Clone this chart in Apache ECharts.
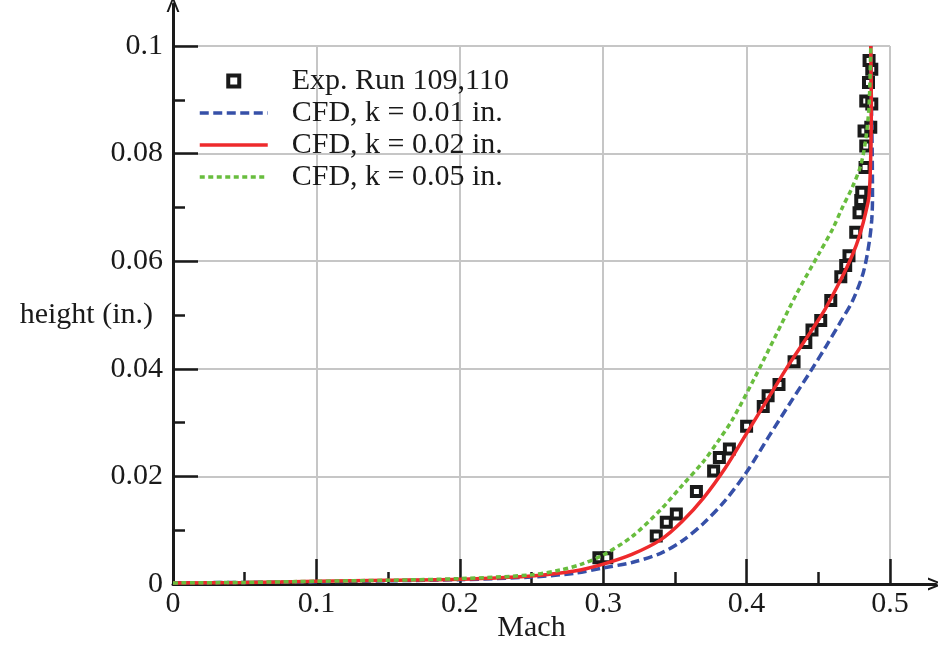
<!DOCTYPE html>
<html><head><meta charset="utf-8">
<script src="https://cdn.jsdelivr.net/npm/echarts@6/dist/echarts.min.js"></script>
<style>html,body{margin:0;padding:0;background:#fff}#c{width:938px;height:646px}</style>
</head><body><div id="c"></div>
<script>
// Experimental data (Exp. Run 109,110)
const expMach = [0.297,0.3025,0.337,0.344,0.351,0.365,0.377,0.381,0.388,0.400,0.4116,0.415,0.4226,0.4331,0.4413,0.4456,0.4517,0.4587,0.4657,0.4691,0.4714,0.4761,0.4784,0.4796,0.4803,0.4826,0.4831,0.4819,0.4866,0.4831,0.4873,0.4850,0.4873,0.4854];
const expHeight = [0.0049,0.0049,0.0089,0.0115,0.0130,0.0172,0.0210,0.0235,0.0251,0.0293,0.0330,0.0350,0.0371,0.0413,0.0449,0.0472,0.0490,0.0527,0.0571,0.0592,0.0610,0.0654,0.0690,0.0713,0.0728,0.0774,0.0814,0.0842,0.0849,0.0898,0.0892,0.0932,0.0957,0.0973];
// CFD k = 0.01 in.
const k001Mach = [0,0.05,0.1,0.15,0.2,0.25,0.28,0.30,0.32,0.34,0.355,0.37,0.385,0.40,0.415,0.43,0.445,0.455,0.465,0.474,0.4815,0.4855,0.4873,0.4878,0.4876,0.4870,0.4866];
const k001Height = [0.0002,0.0003,0.0004,0.0006,0.0008,0.0013,0.0020,0.0030,0.0040,0.0057,0.0080,0.0113,0.0155,0.0208,0.0272,0.0335,0.0397,0.0440,0.0485,0.0527,0.0580,0.0635,0.0678,0.0720,0.0800,0.0900,0.1000];
// CFD k = 0.02 in.
const k002Mach = [0,0.05,0.1,0.15,0.2,0.25,0.28,0.30,0.32,0.34,0.355,0.37,0.385,0.40,0.415,0.43,0.445,0.455,0.465,0.4714,0.4765,0.4796,0.483,0.4854,0.4866,0.4870,0.4866];
const k002Height = [0.0002,0.0003,0.0005,0.0007,0.0009,0.0015,0.0024,0.0037,0.0055,0.0082,0.0116,0.0160,0.0215,0.0280,0.0345,0.0410,0.0470,0.0512,0.0562,0.0597,0.0630,0.0655,0.0690,0.0722,0.0800,0.0889,0.1000];
// CFD k = 0.05 in.
const k005Mach = [0,0.05,0.1,0.15,0.2,0.25,0.27,0.285,0.30,0.32,0.34,0.355,0.37,0.38,0.39,0.405,0.42,0.435,0.45,0.46,0.4668,0.4738,0.4796,0.4831,0.4854,0.4866];
const k005Height = [0.0002,0.0003,0.0005,0.0007,0.0010,0.0017,0.0026,0.0037,0.0054,0.0088,0.0138,0.0183,0.0228,0.0265,0.0305,0.0380,0.0460,0.0540,0.0612,0.0660,0.0700,0.0738,0.0778,0.0827,0.0889,0.1000];

const seriesNames = ['Exp. Run 109,110','CFD, k = 0.01 in.','CFD, k = 0.02 in.','CFD, k = 0.05 in.'];
const xTickRange = {min:0, max:0.5, interval:0.1};
const yTickRange = {min:0, max:0.1, interval:0.02};

const pair = (xs, ys) => xs.map((x,i)=>[x, ys[i]]);
const FONT = 'Liberation Serif';
const FS = 30;
const INK = '#1a1a1a';
const arrow = 'path://M6,0 L12,15 L10,15 L6,4.5 L2,15 L0,15 Z';
const sq = 'path://M0,0 L10,0 L10,10 L0,10 Z';

const chart = echarts.init(document.getElementById('c'), null, {renderer:'canvas'});
chart.setOption({
  animation:false,
  backgroundColor:'#fff',
  grid:[
    {left:173, right:48, top:46, bottom:62, outerBoundsMode:'none', containLabel:false},
    {left:173, right:2, top:4, bottom:62, outerBoundsMode:'none', containLabel:false}
  ],
  legend:{
    orient:'vertical', left:198, top:66, padding:0, itemWidth:68, itemHeight:11, itemGap:2,
    lineStyle:{width:3.5},
    data:[
      {name:seriesNames[0], icon:sq, itemStyle:{color:'#fff', borderColor:INK, borderWidth:4, opacity:1}},
      {name:seriesNames[1], itemStyle:{opacity:0}},
      {name:seriesNames[2], itemStyle:{opacity:0}},
      {name:seriesNames[3], itemStyle:{opacity:0}}
    ],
    textStyle:{fontFamily:FONT, fontSize:FS, color:INK, lineHeight:30, padding:[0,0,0,19]}
  },
  xAxis:[{
    type:'value', gridIndex:0, min:xTickRange.min, max:xTickRange.max, interval:xTickRange.interval,
    name:'Mach', nameLocation:'middle', nameGap:29, nameMoveOverlap:false,
    nameTextStyle:{fontFamily:FONT, fontSize:FS, color:INK},
    axisLine:{show:false},
    axisTick:{show:true, inside:true, length:25, lineStyle:{color:INK, width:2.5}},
    minorTick:{show:true, splitNumber:2, length:12, lineStyle:{color:INK, width:2.5}},
    axisLabel:{fontFamily:FONT, fontSize:FS, color:INK, margin:5},
    splitLine:{show:true, lineStyle:{color:'#c6c6c6', width:2}}
  },{
    type:'value', gridIndex:1, min:0, max:1, show:true,
    axisLine:{show:true, symbol:['none', arrow], symbolSize:[14,16], lineStyle:{color:INK, width:3}},
    axisTick:{show:false}, axisLabel:{show:false}, splitLine:{show:false}
  }],
  yAxis:[{
    type:'value', gridIndex:0, min:yTickRange.min, max:yTickRange.max, interval:yTickRange.interval,
    name:'height (in.)', nameLocation:'middle', nameGap:20, nameRotate:0, nameMoveOverlap:false,
    nameTextStyle:{fontFamily:FONT, fontSize:FS, color:INK, align:'right', verticalAlign:'middle'},
    axisLine:{show:false},
    axisTick:{show:true, inside:true, length:25, lineStyle:{color:INK, width:2.5}},
    minorTick:{show:true, splitNumber:2, length:12, lineStyle:{color:INK, width:2.5}},
    axisLabel:{fontFamily:FONT, fontSize:FS, color:INK, margin:10},
    splitLine:{show:true, lineStyle:{color:'#c6c6c6', width:2}}
  },{
    type:'value', gridIndex:1, min:0, max:1, show:true,
    axisLine:{show:true, symbol:['none', arrow], symbolSize:[14,16], lineStyle:{color:INK, width:3}},
    axisTick:{show:false}, axisLabel:{show:false}, splitLine:{show:false}
  }],
  series:[
    {name:seriesNames[0], type:'scatter', xAxisIndex:0, yAxisIndex:0,
     data:pair(expMach, expHeight), symbol:'rect', symbolSize:9,
     itemStyle:{color:'#fff', borderColor:INK, borderWidth:4, opacity:1}},
    {name:seriesNames[1], type:'line', xAxisIndex:0, yAxisIndex:0, data:pair(k001Mach,k001Height),
     symbol:'none', smooth:0.3, lineStyle:{color:'#3650a8', width:3.5, type:[9,4.5]}, itemStyle:{color:'#3650a8'}},
    {name:seriesNames[2], type:'line', xAxisIndex:0, yAxisIndex:0, data:pair(k002Mach,k002Height),
     symbol:'none', smooth:0.3, lineStyle:{color:'#ee2a2c', width:3.5, type:'solid'}, itemStyle:{color:'#ee2a2c'}},
    {name:seriesNames[3], type:'line', xAxisIndex:0, yAxisIndex:0, data:pair(k005Mach,k005Height),
     symbol:'none', smooth:0.3, lineStyle:{color:'#68bd3e', width:3.5, type:[5,3.5]}, itemStyle:{color:'#68bd3e'}}
  ]
});
</script></body></html>
